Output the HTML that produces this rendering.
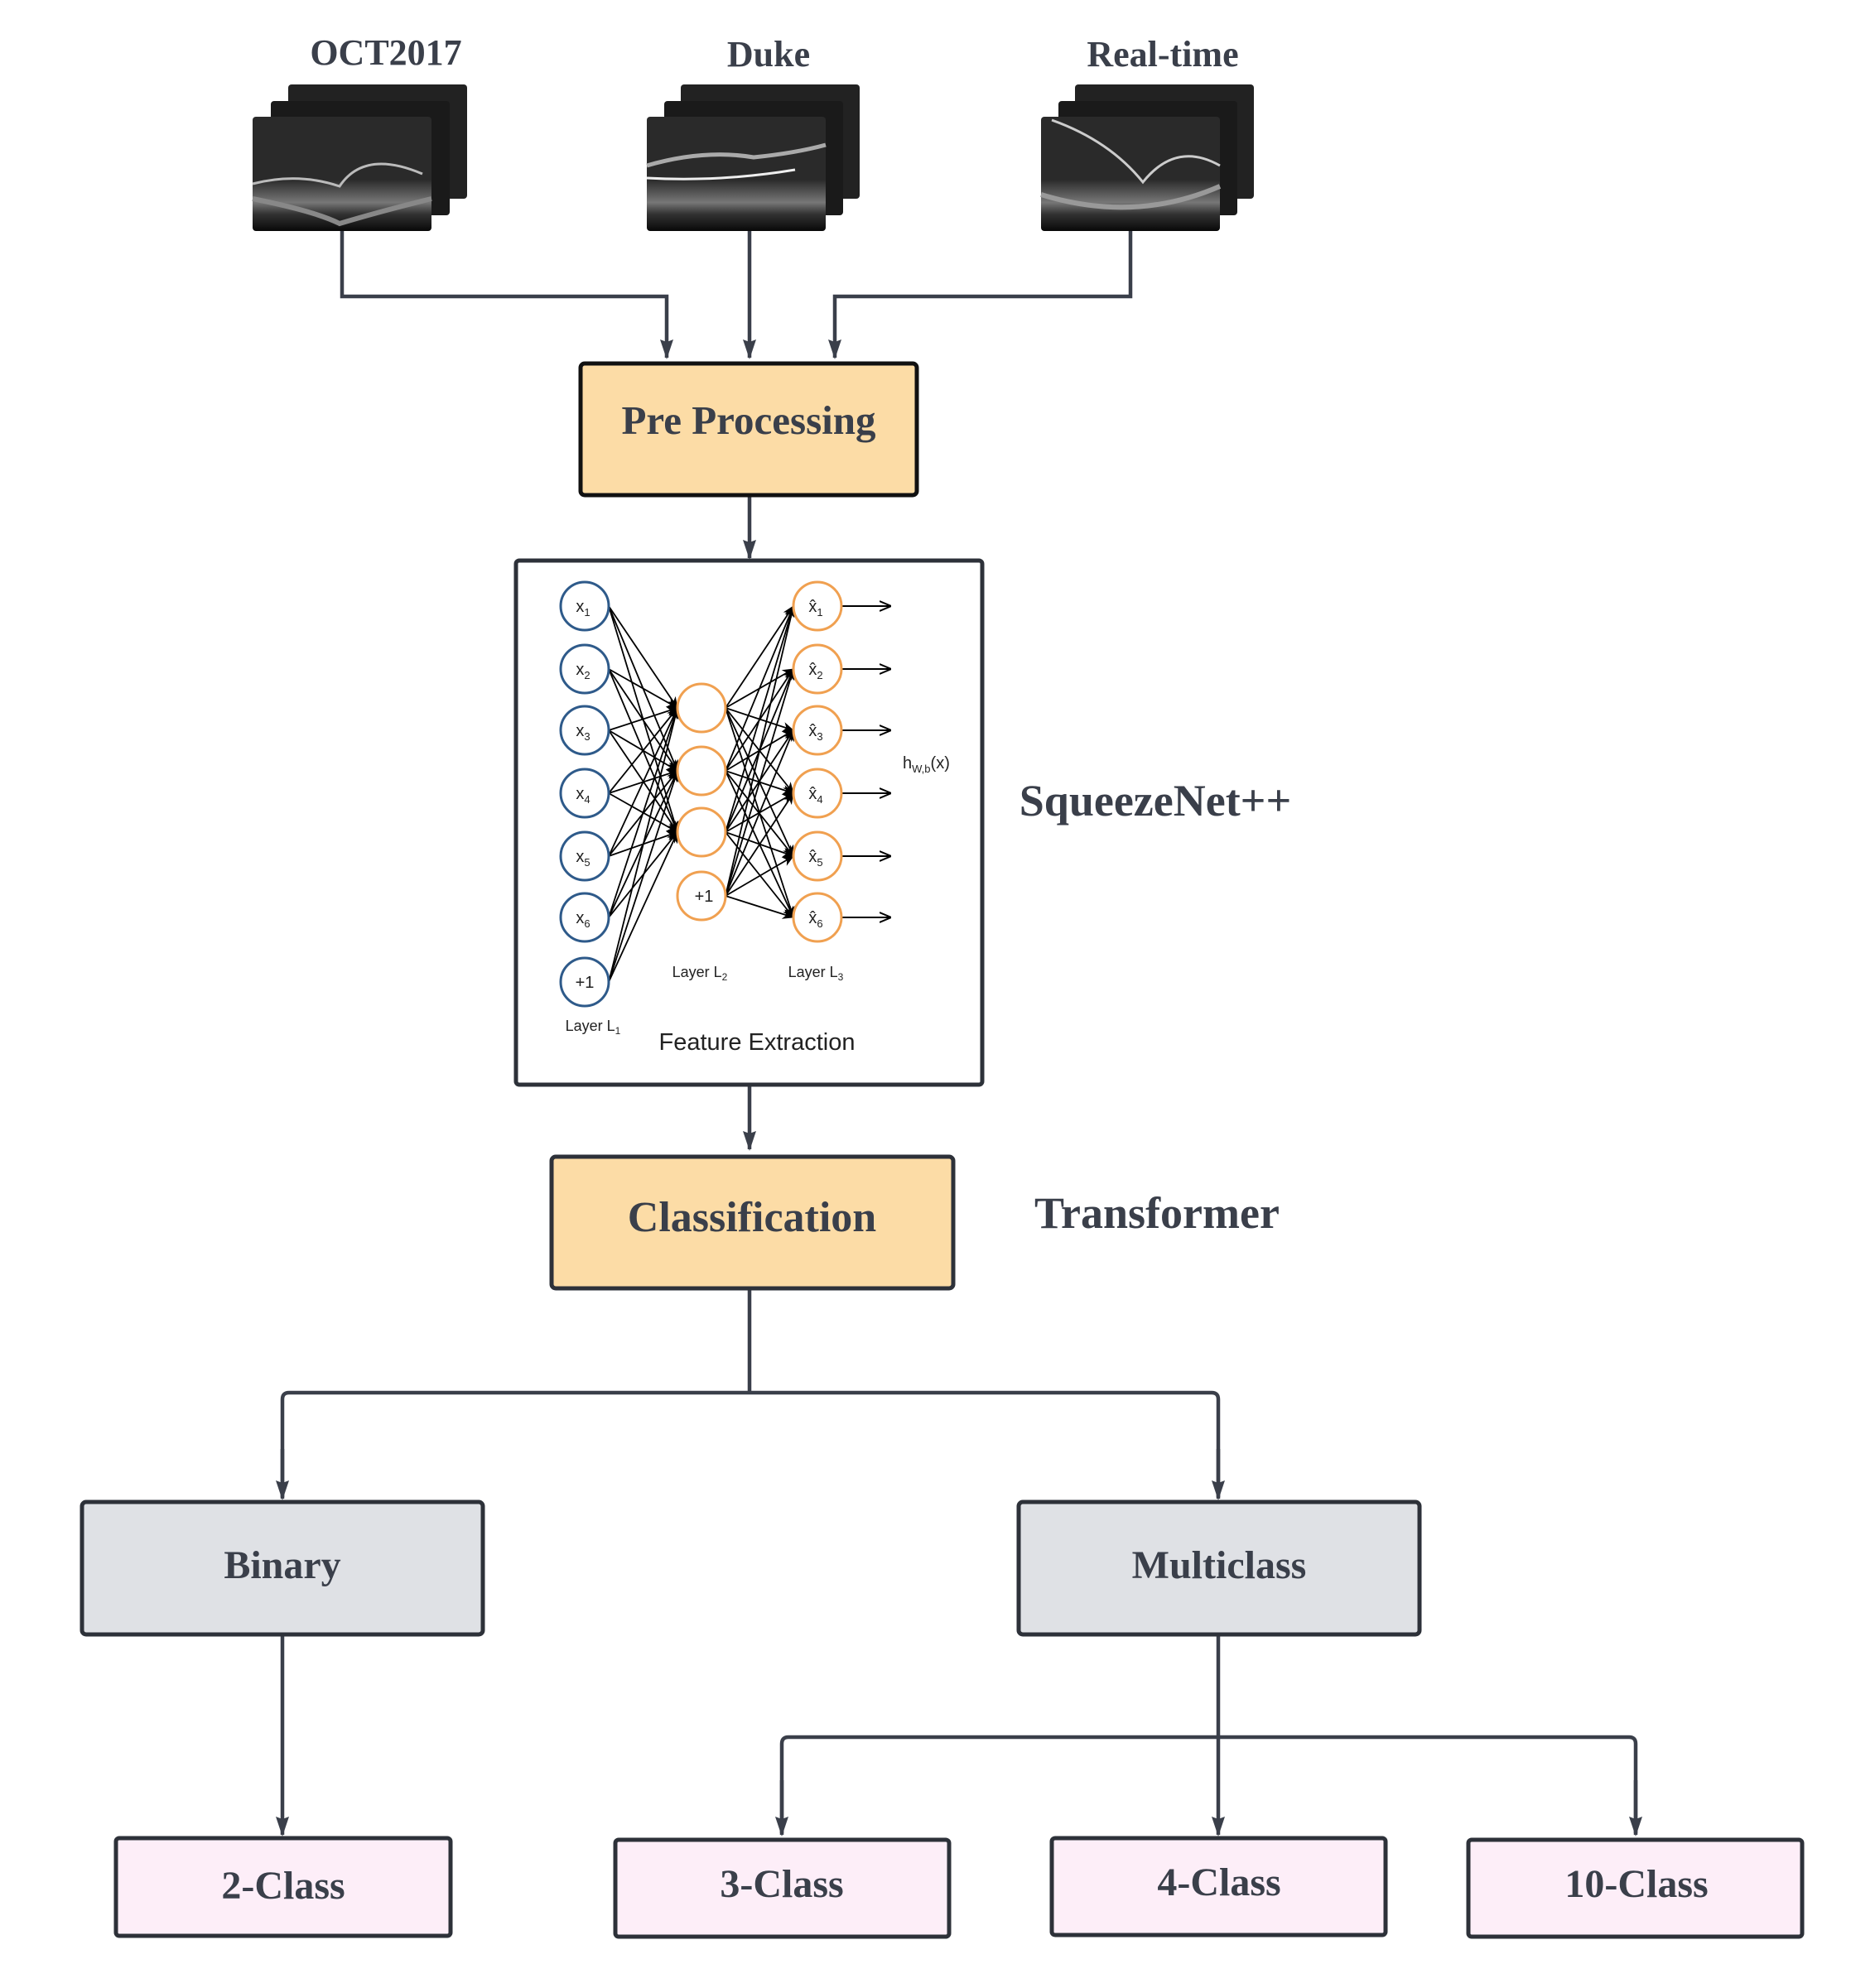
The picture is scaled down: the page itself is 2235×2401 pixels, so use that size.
<!DOCTYPE html>
<html><head><meta charset="utf-8"><style>
html,body{margin:0;padding:0;background:#fff;}
svg{display:block;}
.t{font-family:"Liberation Serif",serif;font-weight:bold;fill:#3a3f4a;text-anchor:middle;}
.s{font-family:"Liberation Sans",sans-serif;fill:#222;}
</style></head><body>
<svg width="2235" height="2401" viewBox="0 0 2235 2401" xmlns="http://www.w3.org/2000/svg">
<defs>
<marker id="a" markerWidth="16" markerHeight="24" refX="8" refY="22" orient="0" markerUnits="userSpaceOnUse" viewBox="0 0 16 24"><path d="M0,0 L8,3 L16,0 L8,24 z" fill="#3a3f4a"/></marker>
<marker id="b" markerWidth="14" markerHeight="14" refX="13" refY="7" orient="auto" markerUnits="userSpaceOnUse" viewBox="0 0 14 14"><path d="M0,1 L14,7 L0,13 L4,7 z" fill="#000"/></marker>
<marker id="c" markerWidth="14" markerHeight="14" refX="13" refY="7" orient="auto" markerUnits="userSpaceOnUse" viewBox="0 0 14 14"><path d="M0,1 L14,7 L0,13" fill="none" stroke="#000" stroke-width="2"/></marker>
<linearGradient id="g" x1="0" y1="0" x2="0" y2="1"><stop offset="0" stop-color="#2a2a2a"/><stop offset="0.55" stop-color="#2a2a2a"/><stop offset="0.75" stop-color="#777"/><stop offset="0.85" stop-color="#333"/><stop offset="1" stop-color="#080808"/></linearGradient>
</defs>

<text class="t" x="466" y="78" font-size="44">OCT2017</text>
<text class="t" x="928" y="80" font-size="44">Duke</text>
<text class="t" x="1404" y="80" font-size="44">Real-time</text>

<g>
<rect x="348" y="102" width="216" height="138" rx="4" fill="#222"/>
<rect x="327" y="122" width="216" height="138" rx="4" fill="#1a1a1a"/>
<rect x="305" y="141" width="216" height="138" rx="4" fill="url(#g)"/>
<path d="M305,222 Q360,208 410,225 Q440,180 510,210" stroke="#bbb" stroke-width="3" fill="none"/>
<path d="M305,240 Q380,255 410,270 Q460,255 521,240" stroke="#888" stroke-width="6" fill="none"/>
</g>
<g>
<rect x="822" y="102" width="216" height="138" rx="4" fill="#222"/>
<rect x="802" y="122" width="216" height="138" rx="4" fill="#1a1a1a"/>
<rect x="781" y="141" width="216" height="138" rx="4" fill="url(#g)"/>
<path d="M781,200 Q850,180 910,190 Q960,185 997,175" stroke="#aaa" stroke-width="5" fill="none"/>
<path d="M781,215 Q870,220 960,205" stroke="#eee" stroke-width="3" fill="none"/>
</g>
<g>
<rect x="1298" y="102" width="216" height="138" rx="4" fill="#222"/>
<rect x="1278" y="122" width="216" height="138" rx="4" fill="#1a1a1a"/>
<rect x="1257" y="141" width="216" height="138" rx="4" fill="url(#g)"/>
<path d="M1270,145 Q1340,170 1380,220 Q1420,170 1473,200" stroke="#ccc" stroke-width="3" fill="none"/>
<path d="M1257,235 Q1370,270 1473,225" stroke="#999" stroke-width="6" fill="none"/>
</g>

<g stroke="#3a3f4a" stroke-width="4.5" fill="none">
<path d="M413,279 V358 H805 V432" marker-end="url(#a)"/>
<path d="M905,279 V432" marker-end="url(#a)"/>
<path d="M1365,279 V358 H1008 V432" marker-end="url(#a)"/>
<path d="M905,598 V674" marker-end="url(#a)"/>
<path d="M905,1310 V1388" marker-end="url(#a)"/>
<path d="M905,1550 V1682 M341,1808 V1690 Q341,1682 349,1682 H1463 Q1471,1682 1471,1690 V1808" />
<path d="M341,1750 V1810" marker-end="url(#a)"/>
<path d="M1471,1750 V1810" marker-end="url(#a)"/>
<path d="M341,1975 V2216" marker-end="url(#a)"/>
<path d="M1471,1975 V2216" marker-end="url(#a)"/>
<path d="M944,2214 V2106 Q944,2098 952,2098 H1967 Q1975,2098 1975,2106 V2214" />
<path d="M944,2150 V2216" marker-end="url(#a)"/>
<path d="M1975,2150 V2216" marker-end="url(#a)"/>
</g>

<rect x="701" y="439" width="406" height="159" rx="5" fill="#fcdca6" stroke="#111" stroke-width="5"/>
<text class="t" x="904" y="524" font-size="49">Pre Processing</text>

<rect x="623" y="677" width="563" height="633" rx="4" fill="#fff" stroke="#2d3139" stroke-width="5"/>

<g stroke="#000" stroke-width="1.8" marker-end="url(#b)">
<line x1="735" y1="732" x2="818" y2="855"/><line x1="735" y1="732" x2="818" y2="931"/><line x1="735" y1="732" x2="818" y2="1005"/>
<line x1="735" y1="808" x2="818" y2="855"/><line x1="735" y1="808" x2="818" y2="931"/><line x1="735" y1="808" x2="818" y2="1005"/>
<line x1="735" y1="882" x2="818" y2="855"/><line x1="735" y1="882" x2="818" y2="931"/><line x1="735" y1="882" x2="818" y2="1005"/>
<line x1="735" y1="958" x2="818" y2="855"/><line x1="735" y1="958" x2="818" y2="931"/><line x1="735" y1="958" x2="818" y2="1005"/>
<line x1="735" y1="1034" x2="818" y2="855"/><line x1="735" y1="1034" x2="818" y2="931"/><line x1="735" y1="1034" x2="818" y2="1005"/>
<line x1="735" y1="1108" x2="818" y2="855"/><line x1="735" y1="1108" x2="818" y2="931"/><line x1="735" y1="1108" x2="818" y2="1005"/>
<line x1="735" y1="1186" x2="818" y2="855"/><line x1="735" y1="1186" x2="818" y2="931"/><line x1="735" y1="1186" x2="818" y2="1005"/>
<line x1="876" y1="855" x2="958" y2="732"/><line x1="876" y1="855" x2="958" y2="808"/><line x1="876" y1="855" x2="958" y2="882"/><line x1="876" y1="855" x2="958" y2="958"/><line x1="876" y1="855" x2="958" y2="1034"/><line x1="876" y1="855" x2="958" y2="1108"/>
<line x1="876" y1="931" x2="958" y2="732"/><line x1="876" y1="931" x2="958" y2="808"/><line x1="876" y1="931" x2="958" y2="882"/><line x1="876" y1="931" x2="958" y2="958"/><line x1="876" y1="931" x2="958" y2="1034"/><line x1="876" y1="931" x2="958" y2="1108"/>
<line x1="876" y1="1005" x2="958" y2="732"/><line x1="876" y1="1005" x2="958" y2="808"/><line x1="876" y1="1005" x2="958" y2="882"/><line x1="876" y1="1005" x2="958" y2="958"/><line x1="876" y1="1005" x2="958" y2="1034"/><line x1="876" y1="1005" x2="958" y2="1108"/>
<line x1="876" y1="1082" x2="958" y2="732"/><line x1="876" y1="1082" x2="958" y2="808"/><line x1="876" y1="1082" x2="958" y2="882"/><line x1="876" y1="1082" x2="958" y2="958"/><line x1="876" y1="1082" x2="958" y2="1034"/><line x1="876" y1="1082" x2="958" y2="1108"/>
</g>
<g stroke="#000" stroke-width="2" marker-end="url(#c)">
<line x1="1016" y1="732" x2="1075" y2="732"/><line x1="1016" y1="808" x2="1075" y2="808"/><line x1="1016" y1="882" x2="1075" y2="882"/>
<line x1="1016" y1="958" x2="1075" y2="958"/><line x1="1016" y1="1034" x2="1075" y2="1034"/><line x1="1016" y1="1108" x2="1075" y2="1108"/>
</g>
<g fill="#fff" stroke="#2e5a8a" stroke-width="3">
<circle cx="706" cy="732" r="29"/><circle cx="706" cy="808" r="29"/><circle cx="706" cy="882" r="29"/><circle cx="706" cy="958" r="29"/><circle cx="706" cy="1034" r="29"/><circle cx="706" cy="1108" r="29"/><circle cx="706" cy="1186" r="29"/>
</g>
<g fill="#fff" stroke="#f0a050" stroke-width="3">
<circle cx="847" cy="855" r="29"/><circle cx="847" cy="931" r="29"/><circle cx="847" cy="1005" r="29"/><circle cx="847" cy="1082" r="29"/>
<circle cx="987" cy="732" r="29"/><circle cx="987" cy="808" r="29"/><circle cx="987" cy="882" r="29"/><circle cx="987" cy="958" r="29"/><circle cx="987" cy="1034" r="29"/><circle cx="987" cy="1108" r="29"/>
</g>
<g class="s" font-size="20" text-anchor="middle">
<text x="704" y="739">x<tspan font-size="13" dy="5">1</tspan></text>
<text x="704" y="815">x<tspan font-size="13" dy="5">2</tspan></text>
<text x="704" y="889">x<tspan font-size="13" dy="5">3</tspan></text>
<text x="704" y="965">x<tspan font-size="13" dy="5">4</tspan></text>
<text x="704" y="1041">x<tspan font-size="13" dy="5">5</tspan></text>
<text x="704" y="1115">x<tspan font-size="13" dy="5">6</tspan></text>
<text x="706" y="1193">+1</text>
<text x="850" y="1089">+1</text>
<text x="985" y="739">x̂<tspan font-size="13" dy="5">1</tspan></text>
<text x="985" y="815">x̂<tspan font-size="13" dy="5">2</tspan></text>
<text x="985" y="889">x̂<tspan font-size="13" dy="5">3</tspan></text>
<text x="985" y="965">x̂<tspan font-size="13" dy="5">4</tspan></text>
<text x="985" y="1041">x̂<tspan font-size="13" dy="5">5</tspan></text>
<text x="985" y="1115">x̂<tspan font-size="13" dy="5">6</tspan></text>
<text x="845" y="1180" font-size="18">Layer L<tspan font-size="12" dy="4">2</tspan></text>
<text x="985" y="1180" font-size="18">Layer L<tspan font-size="12" dy="4">3</tspan></text>
<text x="716" y="1245" font-size="18">Layer L<tspan font-size="12" dy="4">1</tspan></text>
</g>
<text class="s" x="1090" y="928" font-size="20">h<tspan font-size="13" dy="5">W,b</tspan><tspan dy="-5">(x)</tspan></text>
<text class="s" x="914" y="1268" font-size="29" fill="#333" text-anchor="middle">Feature Extraction</text>

<text class="t" x="1395" y="985" font-size="54">SqueezeNet++</text>
<text class="t" x="1397" y="1483" font-size="54">Transformer</text>

<rect x="666" y="1397" width="485" height="159" rx="5" fill="#fcdca6" stroke="#2d3139" stroke-width="5"/>
<text class="t" x="908" y="1487" font-size="52">Classification</text>

<rect x="99" y="1814" width="484" height="160" rx="5" fill="#dfe1e5" stroke="#2d3139" stroke-width="5"/>
<text class="t" x="341" y="1906" font-size="48">Binary</text>
<rect x="1230" y="1814" width="484" height="160" rx="5" fill="#dfe1e5" stroke="#2d3139" stroke-width="5"/>
<text class="t" x="1472" y="1906" font-size="48">Multiclass</text>

<rect x="140" y="2220" width="404" height="118" rx="4" fill="#fdeef8" stroke="#2d3139" stroke-width="5"/>
<text class="t" x="342" y="2293" font-size="48">2-Class</text>
<rect x="743" y="2222" width="403" height="117" rx="4" fill="#fdeef8" stroke="#2d3139" stroke-width="5"/>
<text class="t" x="944" y="2291" font-size="48">3-Class</text>
<rect x="1270" y="2220" width="403" height="117" rx="4" fill="#fdeef8" stroke="#2d3139" stroke-width="5"/>
<text class="t" x="1472" y="2289" font-size="48">4-Class</text>
<rect x="1773" y="2222" width="403" height="117" rx="4" fill="#fdeef8" stroke="#2d3139" stroke-width="5"/>
<text class="t" x="1976" y="2291" font-size="48">10-Class</text>
</svg>
</body></html>
